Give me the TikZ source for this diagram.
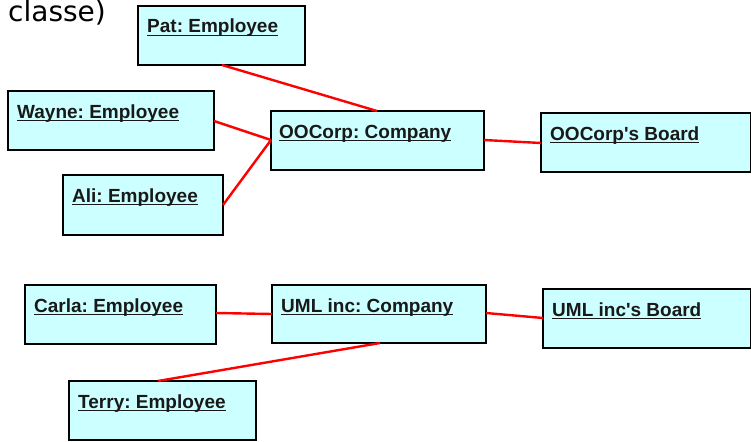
\documentclass[tikz,border=0pt]{standalone}
\usepackage{fontspec}
\setmainfont{Liberation Sans}
\newfontfamily\handfont{DejaVu Sans}
\usetikzlibrary{calc}
\frenchspacing
\definecolor{boxfill}{RGB}{204,255,255}
\definecolor{linkred}{RGB}{255,0,0}
\newcommand{\uln}[1]{\setbox0\hbox{#1}\rlap{\rule[-3pt]{\wd0}{1.4pt}}\box0}
\tikzset{
  objbox/.style={draw=black, line width=1.6pt, fill=boxfill, anchor=north west, inner sep=0pt, outer sep=0pt},
  objtext/.style={anchor=base west, inner sep=0pt, font=\fontsize{19}{21}\bfseries\selectfont, text=black!90},
  link/.style={draw=linkred, line width=2.4pt}
}
\begin{document}
\begin{tikzpicture}[x=1pt,y=-1pt]
\clip (0,0) rectangle (751,441);
\fill[white] (0,0) rectangle (751,441);
\node[anchor=base west, inner sep=0pt, font=\handfont\fontsize{28}{30}\selectfont] (title) at (8,22) {classe)};
% boxes
\node[objbox, minimum width=167pt, minimum height=59pt] (pat) at (138,6) {};
\node[objbox, minimum width=206pt, minimum height=59pt] (wayne) at (8,91) {};
\node[objbox, minimum width=160pt, minimum height=60pt] (ali) at (63,175) {};
\node[objbox, minimum width=213pt, minimum height=59pt] (oo) at (271,111) {};
\node[objbox, minimum width=210pt, minimum height=59pt] (ooboard) at (541,113) {};
\node[objbox, minimum width=191pt, minimum height=59pt] (carla) at (25,285) {};
\node[objbox, minimum width=214pt, minimum height=58pt] (uml) at (272,285) {};
\node[objbox, minimum width=208pt, minimum height=59pt] (umlboard) at (543,289) {};
\node[objbox, minimum width=187pt, minimum height=59pt] (terry) at (69,381) {};
% texts
\node[objtext] (patt) at ($(pat.north west)+(9,27)$) {\uln{Pat: Employee}};
\node[objtext] (waynet) at ($(wayne.north west)+(9,27)$) {\uln{Wayne: Employee}};
\node[objtext] (alit) at ($(ali.north west)+(9,27)$) {\uln{Ali: Employee}};
\node[objtext] (oot) at ($(oo.north west)+(8,27)$) {\uln{OOCorp: Company}};
\node[objtext] (ooboardt) at ($(ooboard.north west)+(9,27)$) {\uln{OOCorp\textquotesingle s Board}};
\node[objtext] (carlat) at ($(carla.north west)+(9,27)$) {\uln{Carla: Employee}};
\node[objtext] (umlt) at ($(uml.north west)+(9,27)$) {\uln{UML inc: Company}};
\node[objtext] (umlboardt) at ($(umlboard.north west)+(9,27)$) {\uln{UML inc\textquotesingle s Board}};
\node[objtext] (terryt) at ($(terry.north west)+(9,27)$) {\uln{Terry: Employee}};
% links
\draw[link] ($(pat.south west)+(84,0)$) -- ($(oo.north west)+(106,0)$);
\draw[link] ($(wayne.north east)+(0,30)$) -- ($(oo.north west)+(0,29)$);
\draw[link] ($(ali.north east)+(0,30)$) -- ($(oo.north west)+(0,29)$);
\draw[link] ($(oo.north east)+(0,29)$) -- ($(ooboard.north west)+(0,30)$);
\draw[link] ($(carla.north east)+(0,28)$) -- ($(uml.north west)+(0,29)$);
\draw[link] ($(uml.south west)+(108,0)$) -- ($(terry.north west)+(89,0)$);
\draw[link] ($(uml.north east)+(0,28)$) -- ($(umlboard.north west)+(0,29)$);
\end{tikzpicture}
\end{document}
